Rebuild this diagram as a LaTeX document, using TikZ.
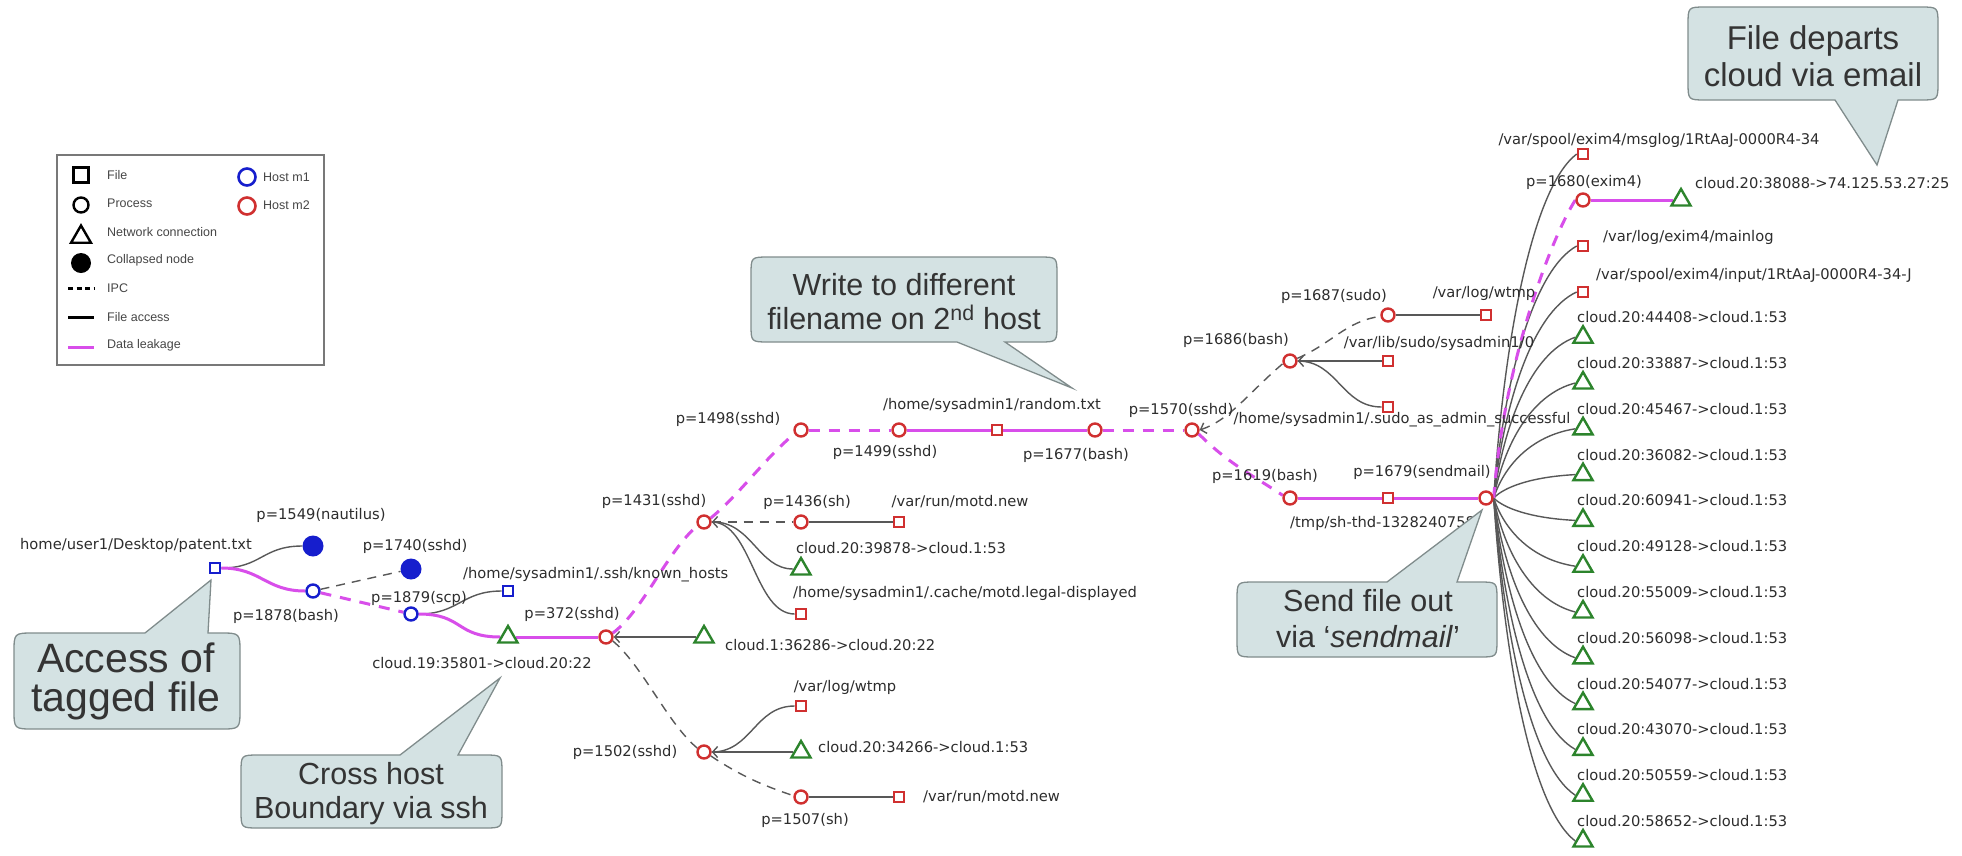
\documentclass[tikz,border=0pt]{standalone}
\usepackage{fontspec}
\setmainfont{Liberation Sans}
\newfontfamily\graphfont{DejaVu Sans}
\usetikzlibrary{arrows.meta,shapes.geometric,backgrounds}

\definecolor{hostred}{RGB}{208,48,48}
\definecolor{hostblue}{RGB}{22,30,205}
\definecolor{netgreen}{RGB}{44,132,44}
\definecolor{leakpink}{RGB}{216,78,234}
\definecolor{accessgray}{RGB}{88,88,88}
\definecolor{labelink}{RGB}{45,45,45}
\definecolor{calloutfill}{RGB}{212,226,227}
\definecolor{calloutedge}{RGB}{128,140,140}
\definecolor{callouttext}{RGB}{52,52,52}
\definecolor{legendink}{RGB}{70,70,70}
\definecolor{legendframe}{RGB}{120,120,120}

\begin{document}
\begin{tikzpicture}[x=1pt,y=-1pt,
  proc/.style={circle,draw=#1,line width=2.4pt,fill=white,minimum size=13pt,inner sep=0pt},
  proc/.default=hostred,
  fileobj/.style={rectangle,draw=#1,line width=2.2pt,fill=white,minimum size=10.5pt,inner sep=0pt},
  fileobj/.default=hostred,
  netobj/.style={regular polygon,regular polygon sides=3,draw=netgreen,line width=2.4pt,fill=white,minimum size=22pt,inner sep=0pt},
  collapsed/.style={circle,fill=hostblue,minimum size=21pt,inner sep=0pt},
  lbl/.style={font=\graphfont\fontsize{14.7}{17}\selectfont,text=labelink,inner sep=0pt},
  access/.style={draw=accessgray,line width=1.4pt},
  ipc/.style={draw=accessgray,line width=1.4pt,dash pattern=on 9pt off 7pt},
  leak/.style={draw=leakpink,line width=3pt},
  leakipc/.style={draw=leakpink,line width=3pt,dash pattern=on 11pt off 9pt},
  backtip/.style={arrows={Straight Barb[length=5pt,width=11pt,line width=1.4pt]-}},
  callout/.style={fill=calloutfill,draw=calloutedge,line width=1.3pt},
  calltext/.style={text=callouttext,align=center,inner sep=0pt},
  legtext/.style={font=\fontsize{12.5}{14}\selectfont,text=legendink,anchor=west,inner sep=0pt},
]
\useasboundingbox (0,0) rectangle (1962,855);
\begin{scope}[on background layer]
  \fill[white] (0,0) rectangle (1962,855);
\end{scope}

% ---------- legend ----------
\draw[legendframe,line width=1.6pt,fill=white] (57,155) rectangle (324,365);
\node[rectangle,draw=black,line width=2.2pt,minimum size=15pt,inner sep=0pt] (keyfile) at (81,175) {};
\node[circle,draw=black,line width=2.4pt,minimum size=15pt,inner sep=0pt] (keyproc) at (81,205) {};
\node[regular polygon,regular polygon sides=3,draw=black,line width=2.4pt,minimum size=23pt,inner sep=0pt] (keynet) at (81,237) {};
\node[circle,fill=black,minimum size=20pt,inner sep=0pt] (keycoll) at (81,263) {};
\draw[black,line width=3pt,dash pattern=on 5pt off 3.5pt] (68,288) -- (94,288);
\draw[black,line width=3pt] (68,317) -- (94,317);
\draw[leakpink,line width=3pt] (68,347) -- (94,347);
\node[legtext] (kt1) at (107,175) {File};
\node[legtext] (kt2) at (107,203) {Process};
\node[legtext] (kt3) at (107,232) {Network connection};
\node[legtext] (kt4) at (107,260) {Collapsed node};
\node[legtext] (kt5) at (107,288) {IPC};
\node[legtext] (kt6) at (107,317) {File access};
\node[legtext] (kt7) at (107,345) {Data leakage};
\node[circle,draw=hostblue,line width=2.6pt,minimum size=17pt,inner sep=0pt] (keym1) at (247,177) {};
\node[circle,draw=hostred,line width=2.6pt,minimum size=17pt,inner sep=0pt] (keym2) at (247,206) {};
\node[legtext] (kt8) at (263,177) {Host m1};
\node[legtext] (kt9) at (263,205) {Host m2};

% ---------- host m1 ----------
\node[fileobj=hostblue] (patent) at (215,568) {};
\node[collapsed] (naut) at (313,546) {};
\node[proc=hostblue] (b1878) at (313,591) {};
\node[collapsed] (p1740) at (411,569) {};
\node[proc=hostblue] (scp) at (411,614) {};
\node[fileobj=hostblue] (known) at (508,591) {};

% ---------- host m2 ----------
\node[netobj] (t19) at (508,637) {};
\node[proc] (s372) at (606,637) {};
\node[netobj] (t36286) at (704,637) {};
\node[proc] (s1431) at (704,522) {};
\node[proc] (s1436) at (801,522) {};
\node[fileobj] (motd1) at (899,522) {};
\node[netobj] (t39878) at (801,569) {};
\node[fileobj] (legal) at (801,614) {};
\node[proc] (s1498) at (801,430) {};
\node[proc] (s1499) at (899,430) {};
\node[fileobj] (rand) at (997,430) {};
\node[proc] (b1677) at (1095,430) {};
\node[proc] (s1570) at (1192,430) {};
\node[proc] (b1686) at (1290,361) {};
\node[proc] (p1687) at (1388,315) {};
\node[fileobj] (wtmp1) at (1486,315) {};
\node[fileobj] (varlib) at (1388,361) {};
\node[fileobj] (sudoas) at (1388,407) {};
\node[proc] (b1619) at (1290,498) {};
\node[fileobj] (tmp) at (1388,498) {};
\node[proc] (send) at (1486,498) {};
\node[proc] (s1502) at (704,752) {};
\node[fileobj] (wtmp2) at (801,706) {};
\node[netobj] (t34266) at (801,752) {};
\node[proc] (s1507) at (801,797) {};
\node[fileobj] (motd2) at (899,797) {};

% right-hand column fed by sendmail
\node[fileobj] (msglog) at (1583,154) {};
\node[proc] (exim) at (1583,200) {};
\node[netobj] (t7425) at (1681,200) {};
\node[fileobj] (mainlog) at (1583,246) {};
\node[fileobj] (input) at (1583,292) {};
\foreach \k/\port in {4/44408,5/33887,6/45467,7/36082,8/60941,9/49128,10/55009,11/56098,12/54077,13/43070,14/50559,15/58652} {
  \pgfmathsetmacro\yy{154+45.8*\k}
  \node[netobj] (dns\k) at (1583,\yy) {};
  \node[lbl,anchor=west] (ldns\k) at (1577,\yy-20) {cloud.20:\port->cloud.1:53};
}

% ---------- labels ----------
\node[lbl] (lpatent) at (136,545) {home/user1/Desktop/patent.txt};
\node[lbl] (lnaut) at (321,515) {p=1549(nautilus)};
\node[lbl] (l1740) at (415,546) {p=1740(sshd)};
\node[lbl] (l1878) at (286,616) {p=1878(bash)};
\node[lbl,anchor=west] (lknown) at (463,575) {/home/sysadmin1/.ssh/known\_hosts};
\node[lbl] (lscp) at (419,598) {p=1879(scp)};
\node[lbl] (l372) at (572,614) {p=372(sshd)};
\node[lbl] (lt19) at (482,663) {cloud.19:35801->cloud.20:22};
\node[lbl,anchor=west] (lt36286) at (725,645) {cloud.1:36286->cloud.20:22};
\node[lbl] (l1431) at (654,501) {p=1431(sshd)};
\node[lbl] (l1436) at (807,502) {p=1436(sh)};
\node[lbl] (lmotd1) at (960,502) {/var/run/motd.new};
\node[lbl] (lt39878) at (901,548) {cloud.20:39878->cloud.1:53};
\node[lbl] (llegal) at (965,593) {/home/sysadmin1/.cache/motd.legal-displayed};
\node[lbl] (l1498) at (728,419) {p=1498(sshd)};
\node[lbl] (l1499) at (885,452) {p=1499(sshd)};
\node[lbl] (lrand) at (992,405) {/home/sysadmin1/random.txt};
\node[lbl] (l1677) at (1076,455) {p=1677(bash)};
\node[lbl] (l1570) at (1181,410) {p=1570(sshd)};
\node[lbl] (l1686) at (1236,340) {p=1686(bash)};
\node[lbl] (l1687) at (1334,296) {p=1687(sudo)};
\node[lbl] (lwtmp1) at (1484,293) {/var/log/wtmp};
\node[lbl] (lvarlib) at (1439,343) {/var/lib/sudo/sysadmin1/0};
\node[lbl] (lsudoas) at (1402,420) {/home/sysadmin1/.sudo\_as\_admin\_successful};
\node[lbl] (l1619) at (1265,476) {p=1619(bash)};
\node[lbl] (l1679) at (1422,472) {p=1679(sendmail)};
\node[lbl,anchor=west] (ltmp) at (1290,523) {/tmp/sh-thd-1328240758};
\node[lbl] (lmsglog) at (1659,140) {/var/spool/exim4/msglog/1RtAaJ-0000R4-34};
\node[lbl] (lexim) at (1584,182) {p=1680(exim4)};
\node[lbl,anchor=west] (l7425) at (1695,183) {cloud.20:38088->74.125.53.27:25};
\node[lbl,anchor=west] (lmainlog) at (1603,237) {/var/log/exim4/mainlog};
\node[lbl,anchor=west] (linput) at (1596,275) {/var/spool/exim4/input/1RtAaJ-0000R4-34-J};
\node[lbl] (l1502) at (625,752) {p=1502(sshd)};
\node[lbl] (lwtmp2) at (845,687) {/var/log/wtmp};
\node[lbl,anchor=west] (lt34266) at (818,747) {cloud.20:34266->cloud.1:53};
\node[lbl] (l1507) at (805,820) {p=1507(sh)};
\node[lbl,anchor=west] (lmotd2) at (923,797) {/var/run/motd.new};

% ---------- connectors ----------
\begin{scope}[on background layer]
  % host m1
  \draw[access] (patent.east) .. controls +(40,0) and +(-40,0) .. (naut.west);
  \draw[leak] (patent.east) .. controls +(40,0) and +(-40,0) .. (b1878.west);
  \draw[ipc] (b1878) -- (p1740);
  \draw[leakipc] (b1878) -- (scp);
  \draw[access] (scp.east) .. controls +(40,0) and +(-40,0) .. (known.west);
  \draw[leak] (scp.east) .. controls +(45,0) and +(-45,0) .. (t19.west);
  \draw[leak] (t19) -- (s372);
  % sshd on host m2
  \draw[access,backtip] (s372) -- (t36286);
  \draw[leakipc] (s372.30) .. controls +(30,-22) and +(-30,25) .. (s1431.210);
  \draw[ipc] (s372.-30) .. controls +(30,25) and +(-30,-25) .. (s1502.150);
  \draw[ipc] (s1431) -- (s1436);
  \draw[access] (s1436) -- (motd1);
  \draw[access,backtip] (s1431.east) .. controls +(40,0) and +(-35,0) .. (t39878.west);
  \draw[access] (s1431.east) .. controls +(40,0) and +(-40,0) .. (legal.west);
  \draw[leakipc] (s1431.30) .. controls +(30,-25) and +(-30,25) .. (s1498.210);
  \draw[leakipc] (s1498) -- (s1499);
  \draw[leak] (s1499) -- (rand);
  \draw[leak] (rand) -- (b1677);
  \draw[leakipc] (b1677) -- (s1570);
  \draw[ipc,backtip] (s1570.east) .. controls +(30,-10) and +(-35,30) .. (b1686.200);
  \draw[leakipc] (s1570.-30) .. controls +(30,30) and +(-30,-20) .. (b1619.160);
  \draw[ipc] (b1686.20) .. controls +(35,-15) and +(-35,5) .. (p1687.190);
  \draw[access,backtip] (b1686) -- (varlib);
  \draw[access] (b1686.east) .. controls +(40,0) and +(-40,0) .. (sudoas.west);
  \draw[access] (p1687) -- (wtmp1);
  \draw[leak] (b1619) -- (tmp);
  \draw[leak] (tmp) -- (send);
  % sendmail fan-out
  \foreach \n/\yy in {msglog/154,mainlog/246,input/292,dns4/337.2,dns5/383,dns6/428.8,dns7/474.6,dns8/520.4,dns9/566.2,dns10/612,dns11/657.8,dns12/703.6,dns13/749.4,dns14/795.2,dns15/841} {
    \pgfmathsetmacro\dy{\yy-498}
    \draw[access] (send.east) .. controls +(10,0.45*\dy) and +(-45,-0.1*\dy) .. (\n.west);
  }
  \draw[leakipc] (send.east) .. controls +(10,-135) and +(-25,40) .. (exim.west);
  \draw[leak] (exim) -- (t7425);
  % lower sshd branch
  \draw[access] (s1502.east) .. controls +(40,0) and +(-40,0) .. (wtmp2.west);
  \draw[access,backtip] (s1502) -- (t34266);
  \draw[ipc] (s1502.-30) .. controls +(30,20) and +(-30,-10) .. (s1507.170);
  \draw[access] (s1507) -- (motd2);
\end{scope}

% ---------- callouts ----------
\path[callout] (34,633) -- (145,633) -- (211,580) -- (208,633) -- (220,633) .. controls (240,633) .. (240,653) -- (240,709) .. controls (240,729) .. (220,729) -- (34,729) .. controls (14,729) .. (14,709) -- (14,653) .. controls (14,633) .. (34,633) -- cycle;
\node[calltext,font=\fontsize{41}{39}\selectfont] (ctag) at (126,681) {Access of\\tagged file};

\path[callout] (769,257) -- (1039,257) .. controls (1057,257) .. (1057,275) -- (1057,324) .. controls (1057,342) .. (1039,342) -- (1005,342) -- (1072,388) -- (957,342) -- (769,342) .. controls (751,342) .. (751,324) -- (751,275) .. controls (751,257) .. (769,257) -- cycle;
\node[calltext,font=\fontsize{30.5}{34}\selectfont] (cwrite) at (904,302) {Write to different\\filename on 2\textsuperscript{nd} host};

\path[callout] (259,755) -- (400,755) -- (500,678) -- (458,755) -- (484,755) .. controls (502,755) .. (502,773) -- (502,810) .. controls (502,828) .. (484,828) -- (259,828) .. controls (241,828) .. (241,810) -- (241,773) .. controls (241,755) .. (259,755) -- cycle;
\node[calltext,font=\fontsize{30.5}{34}\selectfont] (ccross) at (371,794) {Cross host\\Boundary via ssh};

\path[callout] (1255,582) -- (1387,582) -- (1482,510) -- (1457,582) -- (1479,582) .. controls (1497,582) .. (1497,600) -- (1497,639) .. controls (1497,657) .. (1479,657) -- (1255,657) .. controls (1237,657) .. (1237,639) -- (1237,600) .. controls (1237,582) .. (1255,582) -- cycle;
\node[calltext,font=\fontsize{30.5}{36}\selectfont] (csend) at (1368,619) {Send file out\\via ‘\textit{sendmail}’};

\path[callout] (1706,7) -- (1920,7) .. controls (1938,7) .. (1938,25) -- (1938,82) .. controls (1938,100) .. (1920,100) -- (1898,100) -- (1877,165) -- (1835,100) -- (1706,100) .. controls (1688,100) .. (1688,82) -- (1688,25) .. controls (1688,7) .. (1706,7) -- cycle;
\node[calltext,font=\fontsize{33}{37}\selectfont] (cdepart) at (1813,56) {File departs\\cloud via email};
\end{tikzpicture}
\end{document}
